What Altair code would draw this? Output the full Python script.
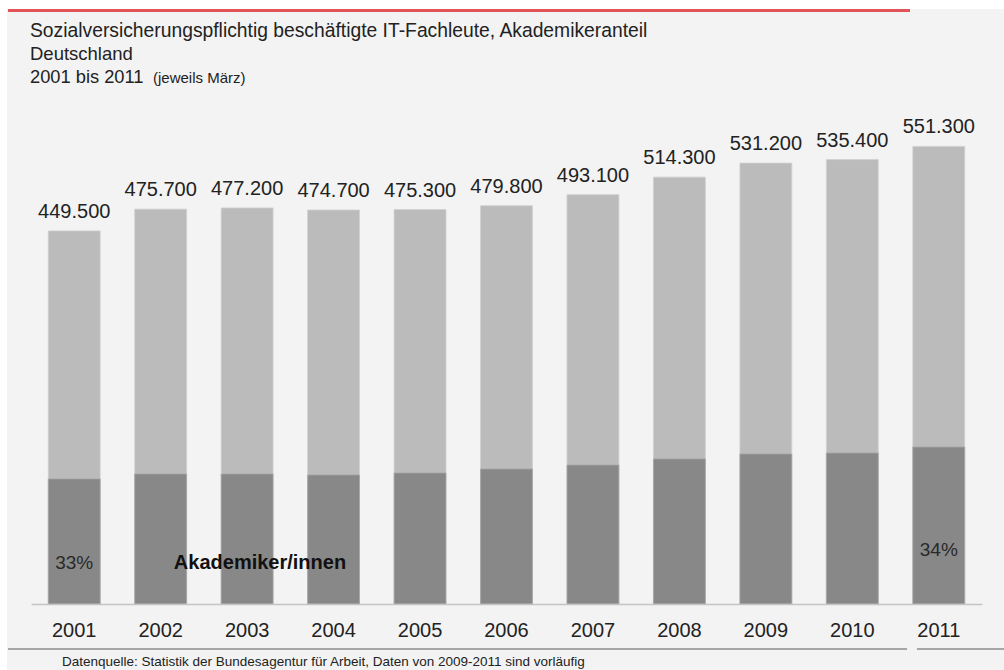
import altair as alt
import pandas as pd

years = ["2001", "2002", "2003", "2004", "2005", "2006", "2007", "2008", "2009", "2010", "2011"]
totals = [449500, 475700, 477200, 474700, 475300, 479800, 493100, 514300, 531200, 535400, 551300]
akademiker = [150700, 156700, 156700, 155500, 157900, 162700, 167500, 174800, 180800, 182000, 189200]
share_first = "33%"
share_last = "34%"

title_1 = "Sozialversicherungspflichtig beschäftigte IT-Fachleute, Akademikeranteil"
title_2 = "Deutschland"
title_3 = "2001 bis 2011"
title_3b = "(jeweils März)"
series_label = "Akademiker/innen"
footnote = "Datenquelle: Statistik der Bundesagentur für Arbeit, Daten von 2009-2011 sind vorläufig"

df = pd.DataFrame({"Jahr": years, "Gesamt": totals, "Akademiker": akademiker})
df["Label"] = [f"{v:,}".replace(",", ".") for v in totals]
one = pd.DataFrame({"a": [0]})

L, T, R, B = 31, 106, 22, 66
W, H = 1004 - L - R, 670 - T - B

FONT = "Liberation Sans"
TXT = "#222222"

xenc = alt.X(
    "Jahr:N",
    sort=years,
    scale=alt.Scale(paddingInner=0.4, paddingOuter=0.2),
    axis=alt.Axis(
        title=None, labelAngle=0, ticks=False, grid=False,
        domainColor="#c4c4c4", domainWidth=1.5,
        labelFontSize=20, labelColor=TXT, labelFont=FONT, labelPadding=16,
        zindex=1,
    ),
)
yscale = alt.Scale(domain=[0, 600000], nice=False)

bars_total = alt.Chart(df).mark_bar(color="#bbbbbb", stroke="#cfcfcf", strokeWidth=0.8).encode(
    x=xenc, y=alt.Y("Gesamt:Q", scale=yscale, axis=None)
)
bars_ak = alt.Chart(df).mark_bar(color="#888888", stroke="#a8a8a8", strokeWidth=0.8).encode(
    x=xenc, y=alt.Y("Akademiker:Q", scale=yscale, axis=None)
)
value_labels = alt.Chart(df).mark_text(
    baseline="alphabetic", dy=-13, fontSize=20, font=FONT, color=TXT
).encode(x=xenc, y=alt.Y("Gesamt:Q", scale=yscale, axis=None), text="Label:N")

pct_first = alt.Chart(df[df.Jahr == years[0]]).mark_text(
    text=share_first, baseline="middle", fontSize=19, font=FONT, color="#2a2a2a"
).encode(x=xenc, y=alt.value(563 - T))
pct_last = alt.Chart(df[df.Jahr == years[-1]]).mark_text(
    text=share_last, baseline="middle", fontSize=19, font=FONT, color="#2a2a2a"
).encode(x=xenc, y=alt.value(550 - T))

def txt(text, x, y, size, font=FONT, weight="normal", align="left", baseline="alphabetic", color=TXT):
    return alt.Chart(one).mark_text(
        text=text, align=align, baseline=baseline, fontSize=size, font=font,
        fontWeight=weight, color=color
    ).encode(x=alt.value(x - L), y=alt.value(y - T))

white_top = alt.Chart(one).mark_rect(color="#ffffff").encode(
    x=alt.value(-L), x2=alt.value(1004 - L), y=alt.value(-T), y2=alt.value(9 - T)
)
white_left = alt.Chart(one).mark_rect(color="#ffffff").encode(
    x=alt.value(-L), x2=alt.value(7 - L), y=alt.value(-T), y2=alt.value(670 - T)
)
red_line = alt.Chart(one).mark_rule(color="#e05458", strokeWidth=3).encode(
    x=alt.value(8 - L), x2=alt.value(910 - L), y=alt.value(10.5 - T)
)
bottom_line1 = alt.Chart(one).mark_rule(color="#8c8c8c", strokeWidth=1.5).encode(
    x=alt.value(8 - L), x2=alt.value(907 - L), y=alt.value(649 - T)
)
bottom_line2 = alt.Chart(one).mark_rule(color="#8c8c8c", strokeWidth=1.5).encode(
    x=alt.value(917 - L), x2=alt.value(1004 - L), y=alt.value(649 - T)
)

chart = alt.layer(
    white_top, white_left, red_line,
    bars_total, bars_ak, value_labels, pct_first, pct_last,
    txt(series_label, 260, 563, 20, weight="bold", align="center", baseline="middle", color="#111111"),
    txt(title_1, 30, 37, 19.3),
    txt(title_2, 30, 60, 18.5),
    txt(title_3, 30, 83, 18.3),
    txt(title_3b, 153, 83, 15),
    bottom_line1, bottom_line2,
    txt(footnote, 62, 662, 13.5, baseline="middle"),
).properties(
    width=W, height=H,
    autosize=alt.AutoSizeParams(type="none"),
    padding={"left": L, "top": T, "right": R, "bottom": B},
).configure(background="#f3f3f3").configure_view(stroke=None)

chart.save("out.html", embed_options={"renderer": "svg", "actions": False})
